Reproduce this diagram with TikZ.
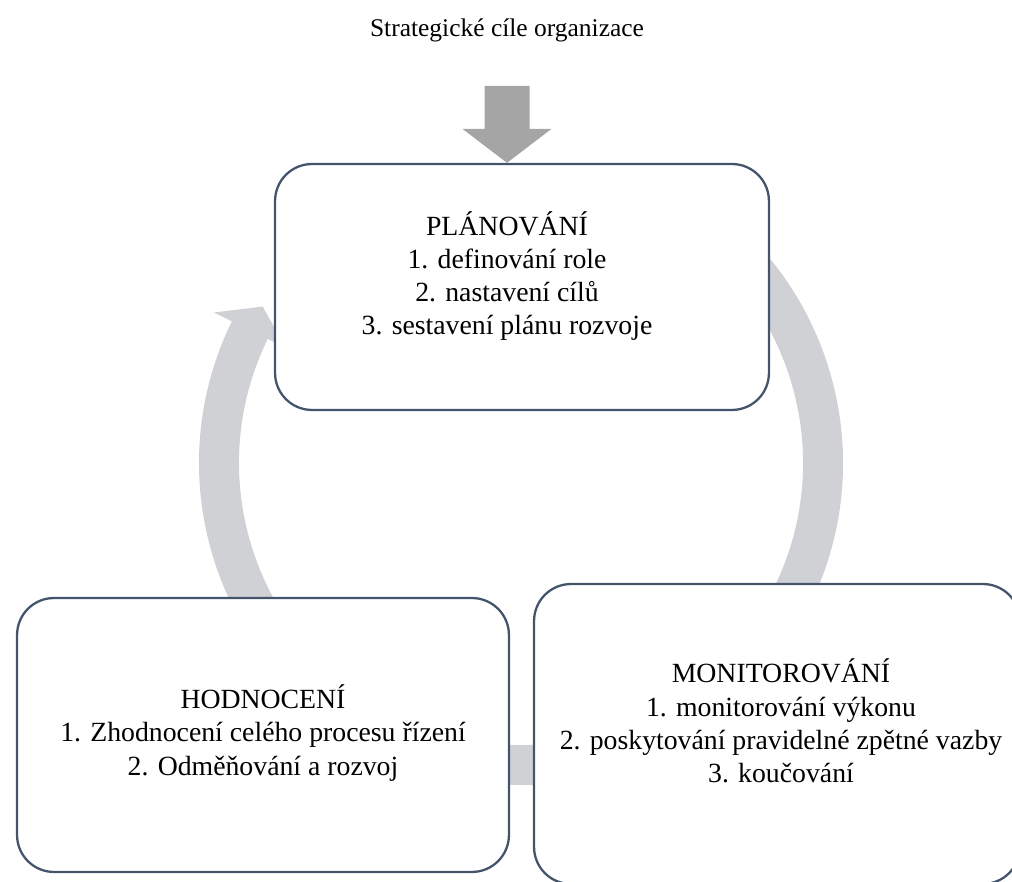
\documentclass[tikz,border=0pt]{standalone}
\usepackage{fontspec}
\setmainfont{Liberation Serif}
\usetikzlibrary{calc}

\definecolor{boxline}{HTML}{44546A}
\definecolor{ringgray}{HTML}{D0D1D5}
\definecolor{arrowgray}{HTML}{A5A5A5}

\begin{document}
\begin{tikzpicture}[
    x=0.02cm, y=0.02cm,
    phase/.style={draw=boxline, line width=1.3pt, fill=white,
        rounded corners=0.74cm, inner sep=0pt},
    phasetext/.style={align=center, inner sep=0pt,
        font=\fontsize{15.8}{18.9}\selectfont},
    ring/.style={draw=ringgray, line width=0.8cm},
]
\useasboundingbox (0,0) rectangle (1012,882);
\clip (0,0) rectangle (1012,882);

%--- Coordinates ---
\def\Cx{521}   % ring centre x
\def\Cy{419}   % ring centre y
\def\Rr{302}   % ring mid radius
\coordinate (ctr) at (\Cx,\Cy);

%--- Cycle ring (behind the boxes) ---
\draw[ring] (ctr) ++(60:\Rr) arc[start angle=60, end angle=-206.3, radius=\Rr];
\fill[ringgray] ($(ctr)+(153.9:342)$) -- ($(ctr)+(148.8:302)$)
    -- ($(ctr)+(153.9:262)$) -- cycle;

%--- Phase boxes ---
\node[phase, minimum width=9.88cm, minimum height=4.92cm] (plan) at (522,595) {};
\node[phase, minimum width=9.84cm, minimum height=5.48cm] (eval) at (263,147) {};
\node[phase, minimum width=9.72cm, minimum height=6cm] (monit) at (777,148) {};

%--- Phase texts ---
\node[phasetext] (plantxt) at ($(plan)+(-15,11)$)
    {PLÁNOVÁNÍ\\1. definování role\\2. nastavení cílů\\3. sestavení plánu rozvoje};
\node[phasetext] (evaltxt) at ($(eval)+(0,2)$)
    {HODNOCENÍ\\1. Zhodnocení celého procesu řízení\\2. Odměňování a rozvoj};
\node[phasetext] (monittxt) at ($(monit)+(4,13)$)
    {MONITOROVÁNÍ\\1. monitorování výkonu\\2. poskytování pravidelné zpětné vazby\\3. koučování};

%--- Goals and the input arrow ---
\node[font=\fontsize{14.5}{17}\selectfont] (goal) at (507,852) {Strategické cíle organizace};
\coordinate (tip) at (plan.north -| goal.south);
\fill[arrowgray] ($(tip)+(-22.5,77)$) -- ($(tip)+(22.5,77)$) -- ($(tip)+(22.5,34)$)
    -- ($(tip)+(44.5,34)$) -- (tip) -- ($(tip)+(-44.5,34)$)
    -- ($(tip)+(-22.5,34)$) -- cycle;

\end{tikzpicture}
\end{document}
